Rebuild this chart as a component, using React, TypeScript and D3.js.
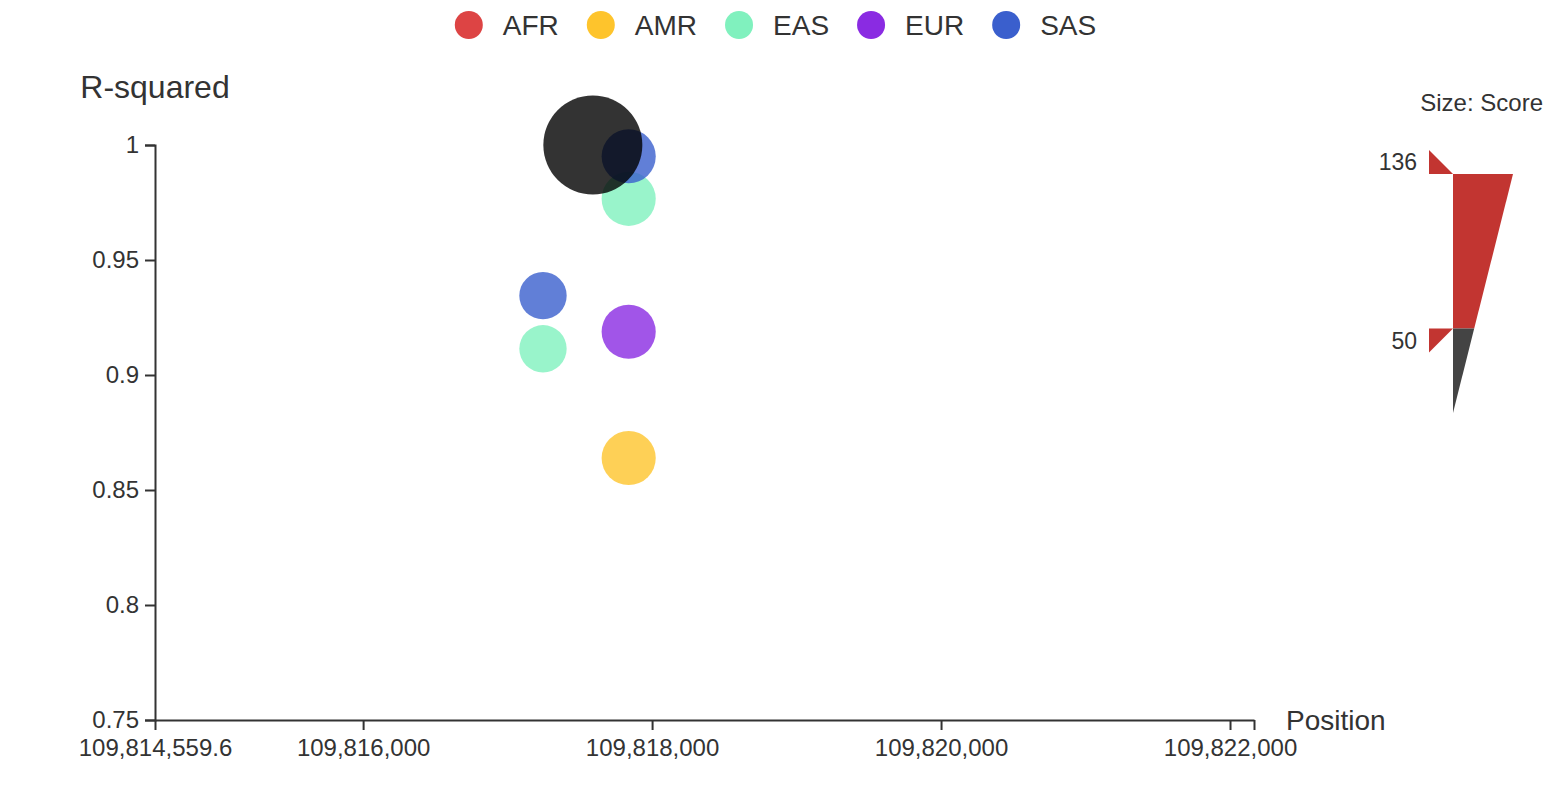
import { useEffect, useRef } from 'react';
import * as d3 from 'd3';

// Legend / series
const populations = ['AFR', 'AMR', 'EAS', 'EUR', 'SAS'];
const populationColors = ['#dd4444', '#fec42c', '#80f1be', '#8a2be2', '#3a5fcd'];

// Variants (one entry per bubble)
const pointPopulation = ['AMR', 'EAS', 'EAS', 'EUR', 'SAS', 'SAS'];
const pointPosition = [109817838, 109817838, 109817245, 109817838, 109817838, 109817245];
const pointR2 = [0.8639, 0.9766, 0.9114, 0.9188, 0.9951, 0.9345];
const pointScore = [123, 123, 108, 123, 123, 108];

// Lead variant
const leadPosition = [109817590];
const leadR2 = [1];

// Axes
const xMin = 109814559.6;
const xMax = 109822166;
const xTicks = [109816000, 109818000, 109820000, 109822000];
const yTicks = [0.75, 0.8, 0.85, 0.9, 0.95, 1];

// Size visual map
const sizeMin = 3;
const sizeMax = 136;
const sizeSelected = [50, 136];

const FONT = '"Liberation Sans", Arial, Helvetica, sans-serif';
const TEXT = '#333';

const App = () => {
  const svgRef = useRef<SVGSVGElement>(null);

  useEffect(() => {
    if (!svgRef.current) return;
    const svg = d3.select(svgRef.current);
    svg.selectAll('*').remove();

    const width = 1554;
    const height = 800;
    const grid = { left: 155, right: 1254, top: 145, bottom: 720 };

    svg.attr('width', width).attr('height', height).style('font-family', FONT);

    const x = d3.scaleLinear().domain([xMin, xMax]).range([grid.left, grid.right]);
    const y = d3.scaleLinear().domain([0.75, 1]).range([grid.bottom, grid.top]);
    const size = d3.scaleLinear().domain([sizeMin, sizeMax]).range([0, 60]);
    const color = d3.scaleOrdinal<string, string>().domain(populations).range(populationColors);

    // Y axis
    const yAxis = svg.append('g')
      .attr('transform', `translate(${grid.left},0)`)
      .call(d3.axisLeft(y).tickValues(yTicks).tickSize(10).tickPadding(6)
        .tickFormat(d => String(+(+d).toFixed(2))));
    yAxis.select('.domain').attr('stroke', TEXT).attr('stroke-width', 2);
    yAxis.selectAll('.tick line').attr('stroke', TEXT).attr('stroke-width', 2);
    yAxis.selectAll('.tick text').attr('fill', TEXT).style('font-size', '24px').style('font-family', FONT);

    // X axis
    const xAxis = svg.append('g')
      .attr('transform', `translate(0,${grid.bottom})`)
      .call(d3.axisBottom(x).tickValues([xMin, ...xTicks, xMax]).tickSize(10).tickSizeOuter(0).tickPadding(9)
        .tickFormat(d => (+d === xMax ? '' : d3.format(',')(+d))));
    xAxis.select('.domain').attr('stroke', TEXT).attr('stroke-width', 2);
    xAxis.selectAll('.tick line').attr('stroke', TEXT).attr('stroke-width', 2);
    xAxis.selectAll('.tick text').attr('fill', TEXT).style('font-size', '24px').style('font-family', FONT);

    // Axis names
    svg.append('text')
      .attr('x', grid.left).attr('y', 98)
      .attr('text-anchor', 'middle')
      .attr('fill', TEXT).style('font-size', '32px')
      .text('R-squared');
    svg.append('text')
      .attr('x', grid.right + 32).attr('y', grid.bottom + 10)
      .attr('fill', TEXT).style('font-size', '28px')
      .text('Position');

    // Bubbles
    const points = pointPopulation.map((p, i) => ({
      pop: p, pos: pointPosition[i], r2: pointR2[i], score: pointScore[i],
    }));
    svg.append('g').selectAll('circle')
      .data(points)
      .enter()
      .append('circle')
      .attr('cx', d => x(d.pos))
      .attr('cy', d => y(d.r2))
      .attr('r', d => size(d.score) / 2)
      .attr('fill', d => color(d.pop))
      .attr('fill-opacity', 0.8);

    // Lead variant
    svg.append('g').selectAll('circle')
      .data(leadPosition.map((p, i) => ({ pos: p, r2: leadR2[i] })))
      .enter()
      .append('circle')
      .attr('cx', d => x(d.pos))
      .attr('cy', d => y(d.r2))
      .attr('r', 49.5)
      .attr('fill', '#000')
      .attr('fill-opacity', 0.8);

    // Legend
    const legend = svg.append('g');
    const gap = 17;
    let cursor = 0;
    populations.forEach((p, i) => {
      const item = legend.append('g').attr('transform', `translate(${cursor},0)`);
      item.append('circle').attr('cx', 25).attr('cy', 25).attr('r', 14).attr('fill', populationColors[i]);
      const t = item.append('text')
        .attr('x', 59).attr('y', 25).attr('dy', '0.36em')
        .attr('fill', TEXT).style('font-size', '28px')
        .text(p);
      const tw = (t.node() as SVGTextElement).getComputedTextLength();
      cursor += 59 + tw + gap;
    });
    const legendWidth = cursor - gap;
    legend.attr('transform', `translate(${(width - legendWidth) / 2 - 7},0)`);

    // Size visual map
    const vmX = 1453;
    const vy = d3.scaleLinear().domain([sizeMin, sizeMax]).range([413, 174]);
    const vw = d3.scaleLinear().domain([sizeMin, sizeMax]).range([0, 60]);
    const [lo, hi] = sizeSelected;
    const vm = svg.append('g');
    vm.append('text')
      .attr('x', 1543).attr('y', 102).attr('dy', '0.36em')
      .attr('text-anchor', 'end').attr('fill', TEXT).style('font-size', '24px')
      .text('Size: Score');
    vm.append('path')
      .attr('d', `M${vmX},${vy(hi)}L${vmX + vw(hi)},${vy(hi)}L${vmX + vw(lo)},${vy(lo)}L${vmX},${vy(lo)}Z`)
      .attr('fill', '#c23531');
    vm.append('path')
      .attr('d', `M${vmX},${vy(lo)}L${vmX + vw(lo)},${vy(lo)}L${vmX + vw(sizeMin)},${vy(sizeMin)}Z`)
      .attr('fill', '#444');
    // handles
    vm.append('path')
      .attr('d', `M${vmX - 24},${vy(hi) - 24}L${vmX - 24},${vy(hi)}L${vmX},${vy(hi)}Z`)
      .attr('fill', '#c23531');
    vm.append('path')
      .attr('d', `M${vmX - 24},${vy(lo)}L${vmX},${vy(lo)}L${vmX - 24},${vy(lo) + 24}Z`)
      .attr('fill', '#c23531');
    vm.append('text')
      .attr('x', 1417).attr('y', vy(hi) - 12).attr('dy', '0.36em')
      .attr('text-anchor', 'end').attr('fill', TEXT).style('font-size', '23px')
      .text(String(hi));
    vm.append('text')
      .attr('x', 1417).attr('y', vy(lo) + 12).attr('dy', '0.36em')
      .attr('text-anchor', 'end').attr('fill', TEXT).style('font-size', '23px')
      .text(String(lo));
  }, []);

  return (
    <svg ref={svgRef} style={{ position: 'absolute', left: 0, top: 0, background: '#fff' }} />
  );
};

export default App;
